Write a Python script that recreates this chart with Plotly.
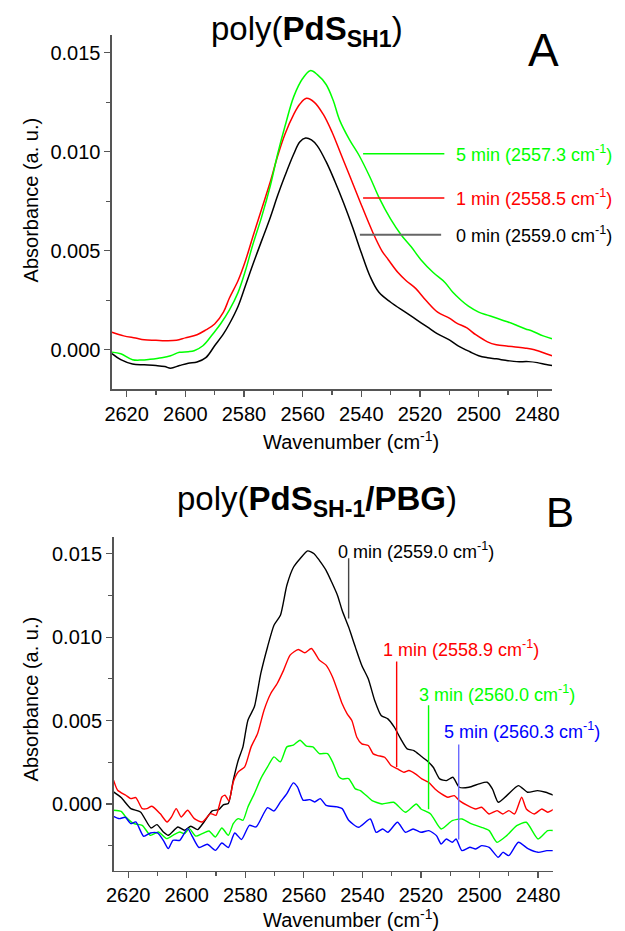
import plotly.graph_objects as go

# ---------------- Panel A data: poly(PdS_SH1) ----------------
a_black_wn = [2625, 2622, 2618, 2614, 2610, 2607, 2605, 2602, 2599, 2596, 2593, 2590, 2587, 2585, 2582,
              2579.6, 2577, 2574, 2571, 2568.5, 2566, 2563, 2561, 2559, 2557, 2555, 2552, 2549, 2546,
              2543, 2540, 2537, 2534, 2530, 2525, 2521, 2517, 2514, 2510, 2507, 2503, 2500, 2497,
              2494, 2490, 2487, 2483, 2480, 2477, 2475]
a_black = [-0.0002, -0.0005, -0.00072, -0.00076, -0.0008, -0.00085, -0.00093, -0.0008, -0.00068, -0.00062,
           -0.0004, 0.0002, 0.0008, 0.0013, 0.0022, 0.0032, 0.0043, 0.0055, 0.0067, 0.0078, 0.0088, 0.0099,
           0.0105, 0.0107, 0.0106, 0.0103, 0.0095, 0.0085, 0.0074, 0.0062, 0.0049, 0.0037, 0.0029, 0.0024,
           0.0019, 0.0015, 0.0011, 0.0008, 0.0005, 0.0002, -0.0001, -0.0003, -0.0004, -0.00046, -0.00055,
           -0.0006, -0.0006, -0.00065, -0.00075, -0.0008]

a_red_wn = [2625, 2621, 2617, 2614, 2610, 2607, 2603, 2600, 2596, 2593, 2590, 2587, 2585, 2582, 2579.5,
            2577, 2574, 2571, 2568.5, 2566, 2563, 2561, 2558.7, 2556, 2553, 2550, 2547, 2544, 2540.5,
            2536, 2533, 2530.8, 2527.5, 2524.8, 2521.5, 2518, 2514, 2510, 2507.5, 2504, 2501, 2497,
            2494, 2490, 2487.5, 2484, 2481, 2477, 2475]
a_red = [0.00088, 0.0007, 0.00059, 0.0005, 0.00048, 0.00046, 0.00048, 0.0006, 0.00076, 0.001, 0.0013,
         0.0019, 0.0026, 0.0035, 0.0045, 0.0057, 0.0071, 0.0085, 0.0098, 0.0109, 0.0119, 0.0124, 0.0127,
         0.0125, 0.0119, 0.0110, 0.0099, 0.0088, 0.0075, 0.0059, 0.0050, 0.00455, 0.0039, 0.0035, 0.0031,
         0.0025, 0.0019, 0.0016, 0.00135, 0.0011, 0.00076, 0.0004, 0.00025, 0.00018, 0.00014, 0.00008,
         0.0, -0.0002, -0.0003]

a_green_wn = [2625, 2622, 2618, 2615, 2612, 2608, 2605, 2602, 2599, 2597, 2594, 2590.6, 2588, 2585, 2582,
              2579.5, 2577, 2574, 2571, 2568.5, 2566, 2563, 2560, 2557.4, 2555, 2552, 2549.6, 2547.4,
              2544, 2540.7, 2537, 2534, 2530, 2526.4, 2523, 2519.7, 2515.5, 2511.5, 2508.8, 2506,
              2503.5, 2500, 2497, 2494, 2490, 2487.5, 2484, 2482, 2478, 2475]
a_green = [-0.00012, -0.0002, -0.0005, -0.00052, -0.00048, -0.0004, -0.0003, -0.00013, -0.0001, -0.00005,
           0.0002, 0.0008, 0.0013, 0.0020, 0.0029, 0.0040, 0.0053, 0.0067, 0.0083, 0.0099, 0.0113, 0.0128,
           0.0137, 0.0141, 0.0139, 0.0134, 0.0126, 0.0116, 0.0106, 0.0098, 0.0087, 0.0077, 0.0066, 0.0058,
           0.0052, 0.00455, 0.0039, 0.0034, 0.0029, 0.0025, 0.0022, 0.0019, 0.00175, 0.0016, 0.0014,
           0.00126, 0.00105, 0.00096, 0.0007, 0.00056]

# ---------------- Panel B data: poly(PdS_SH-1/PBG) ----------------
b_black_wn = [2625, 2622.4, 2619.1, 2615.8, 2612.2, 2610.2, 2608, 2606.3, 2603, 2600.8, 2598.6, 2596.3,
              2594.1, 2591.3, 2589.1, 2587.4, 2585.8, 2584.1, 2582.4, 2580.8, 2579.1, 2576.9, 2574.7,
              2572.4, 2570.2, 2568, 2565.8, 2563.5, 2561.3, 2558.7, 2556.5, 2554.7, 2552.4, 2550.5,
              2548.5, 2546.9, 2544.7, 2542.4, 2540.2, 2538, 2535.8, 2533.6, 2531.3, 2529.1, 2526.9,
              2524.7, 2522.4, 2520.2, 2518, 2515.8, 2513.6, 2511.3, 2509.1, 2506.9, 2503.6, 2500.2,
              2497.4, 2495.6, 2493.6, 2490.7, 2486.7, 2483.6, 2480.2, 2477.4, 2474.5]
b_black = [0.00072, 0.00038, -0.00028, -0.00048, -0.00144, -0.00124, -0.00168, -0.00188, -0.00138,
           -0.00158, -0.00134, -0.00154, -0.00108, -0.00042, -0.00034, -0.00004, 0.00002, 0.00142,
           0.00262, 0.00342, 0.00502, 0.00582, 0.00782, 0.00941, 0.01071, 0.01131, 0.01311, 0.0142,
           0.0147, 0.01517, 0.0150, 0.0146, 0.0140, 0.0133, 0.0125, 0.0116, 0.0106, 0.0094, 0.0083,
           0.0075, 0.0062, 0.0053, 0.0051, 0.0046, 0.0039, 0.0033, 0.0032, 0.0029, 0.0026, 0.0022,
           0.0015, 0.0014, 0.0016, 0.0010, 0.0010, 0.0012, 0.0013, 0.0009, 0.0001, 0.0005, 0.0011,
           0.0007, 0.0008, 0.0007, 0.0005]

b_red_wn = [2625, 2623.6, 2620.8, 2619.1, 2617.4, 2615.2, 2613.6, 2611.9, 2609.1, 2606.7, 2605.2, 2603.6,
            2601.9, 2599.7, 2597.4, 2594.7, 2591.9, 2590, 2588, 2586.9, 2585.6, 2584.1, 2582.4, 2580.2,
            2578, 2575.8, 2573.6, 2571.3, 2569.1, 2566.9, 2564.7, 2561.9, 2559.7, 2557.4, 2554.7,
            2552.4, 2550.2, 2548.5, 2546.9, 2545.2, 2543.6, 2541.9, 2540.2, 2538, 2536.3, 2534.7,
            2532.4, 2530.2, 2528, 2525.8, 2524.1, 2521.9, 2519.7, 2517.4, 2515.2, 2513, 2510.8, 2508.6,
            2506.9, 2504, 2501.3, 2499.3, 2496.7, 2494, 2492, 2490, 2488, 2485.6, 2484, 2481.3, 2478.7,
            2476.7, 2474.5]
b_red = [0.00142, 0.00082, 0.00052, 0.00032, 0.00038, -0.00028, -0.00028, -0.00014, -0.00058, -0.00108,
         -0.00078, -0.00028, -0.00078, -0.00038, -0.00088, -0.00108, -0.00058, -0.00068, 0.00042, 0.00052,
         0.00018, 0.00132, 0.00192, 0.00222, 0.00342, 0.00422, 0.00562, 0.00662, 0.00722, 0.00802,
         0.00892, 0.00926, 0.00906, 0.00932, 0.00862, 0.00832, 0.00761, 0.0068, 0.0060, 0.0054, 0.0050,
         0.0040, 0.0036, 0.0035, 0.0030, 0.0029, 0.0028, 0.0023, 0.0021, 0.0019, 0.0020, 0.0018, 0.0015,
         0.0013, 0.0009, 0.0006, 0.0004, 0.0005, 0.0002, -0.0001, -0.0003, -0.0002, -0.0006, -0.0004,
         -0.0006, -0.0004, -0.0006, 0.0004, -0.0003, -0.0006, -0.0003, -0.0005, -0.0003]

b_green_wn = [2625, 2622.4, 2620.8, 2618, 2615.2, 2612.4, 2609.7, 2606.9, 2604.7, 2602.4, 2600.8, 2599.1,
              2596.9, 2594.7, 2592.4, 2590.2, 2588, 2585.8, 2584.1, 2582.4, 2580.8, 2579.1, 2576.9,
              2574.7, 2572.4, 2570.2, 2568, 2565.8, 2563.6, 2561.3, 2559.1, 2556.9, 2554.7, 2551.9,
              2550.2, 2548, 2546.9, 2544.7, 2542.4, 2540.7, 2538, 2536.7, 2533.3, 2529.3, 2525.3,
              2521.6, 2520, 2516.7, 2513.1, 2509.3, 2506, 2502.7, 2499.3, 2496.7, 2494, 2490.7, 2487.3,
              2484, 2480, 2476.7, 2474.5]
b_green = [-0.00038, -0.00045, -0.00078, -0.00118, -0.00128, -0.00188, -0.00168, -0.00208, -0.00188,
           -0.00168, -0.00178, -0.00148, -0.00193, -0.00178, -0.00162, -0.00198, -0.00144, -0.00188,
           -0.00118, -0.00088, -0.00098, -0.00018, 0.00062, 0.00152, 0.00222, 0.00282, 0.00252, 0.00342,
           0.00352, 0.00382, 0.00346, 0.00342, 0.00302, 0.00302, 0.00252, 0.00162, 0.0015, 0.00152,
           0.0009, 0.0008, 0.0004, 0.0002, 0.0, 0.0001, -0.0005, 0.0, -0.0003, -0.0006, -0.0015, -0.001,
           -0.0009, -0.0012, -0.0014, -0.0016, -0.0023, -0.0019, -0.0013, -0.0011, -0.0021, -0.0016,
           -0.0016]

b_blue_wn = [2625, 2623, 2621, 2619.1, 2617.4, 2614.7, 2612.4, 2610, 2608, 2606.3, 2604.7, 2602.4, 2599.7,
             2598, 2595.8, 2593, 2590.2, 2588, 2585.8, 2583.6, 2581.3, 2578.6, 2576.3, 2572.4, 2570.2,
             2568, 2565.8, 2563.6, 2562.2, 2560.2, 2558, 2556.3, 2554.4, 2552.4, 2548.6, 2546.9,
             2544.7, 2541.3, 2537.3, 2535.3, 2533.1, 2531.3, 2528, 2525.3, 2522.7, 2520, 2517.3,
             2514.7, 2513.1, 2511.3, 2509.3, 2508, 2506, 2503.3, 2501.3, 2499.3, 2496.7, 2493.6, 2492,
             2490, 2486.7, 2483.3, 2480, 2477, 2474.5]
b_blue = [-0.00074, -0.00088, -0.0008, -0.00118, -0.00108, -0.00194, -0.00174, -0.00174, -0.00218,
          -0.00268, -0.00218, -0.00218, -0.00148, -0.00198, -0.00261, -0.00242, -0.00278, -0.00234,
          -0.00261, -0.00174, -0.00213, -0.00128, -0.00138, -0.00022, -0.00042, 0.00012, 0.00062,
          0.00126, 0.00102, 0.00022, 0.00026, 0.00012, 0.00032, -0.00008, -0.00018, -0.00028, -0.00098,
          -0.0014, -0.0009, -0.0017, -0.0015, -0.0017, -0.0011, -0.0017, -0.0015, -0.0017, -0.0016,
          -0.0019, -0.0024, -0.0021, -0.0023, -0.0021, -0.0028, -0.0026, -0.0027, -0.0025, -0.0026,
          -0.0032, -0.0029, -0.0031, -0.0023, -0.0027, -0.0029, -0.0028, -0.0028]

# annotation labels
a_labels = ["5 min (2557.3 cm<sup>-1</sup>)", "1 min (2558.5 cm<sup>-1</sup>)", "0 min (2559.0 cm<sup>-1</sup>)"]
a_label_y = [0.0099, 0.00767, 0.00581]
b_labels = ["0 min (2559.0 cm<sup>-1</sup>)", "1 min (2558.9 cm<sup>-1</sup>)",
            "3 min (2560.0 cm<sup>-1</sup>)", "5 min (2560.3 cm<sup>-1</sup>)"]
b_label_x = [2549.0, 2533.6, 2521.3, 2512.7]
b_label_y = [0.0152, 0.00933, 0.00664, 0.00442]
b_marker_x = [2544.7, 2528.3, 2517.4, 2507.1]
b_marker_y0 = [0.01112, 0.00221, -0.00032, -0.00213]
b_marker_y1 = [0.01472, 0.00854, 0.00591, 0.00357]

FONT = "Arial, Liberation Sans, sans-serif"
BLACK, RED, GREEN, BLUE = "#000000", "#ff0000", "#00ff00", "#0000ff"

fig = go.Figure()
for wn, v, c in [(a_black_wn, a_black, BLACK), (a_red_wn, a_red, RED), (a_green_wn, a_green, GREEN)]:
    fig.add_trace(go.Scatter(x=wn, y=v, mode="lines", line=dict(color=c, width=1.5, shape="spline"),
                             xaxis="x", yaxis="y", showlegend=False, hoverinfo="skip"))
for wn, v, c in [(b_black_wn, b_black, BLACK), (b_red_wn, b_red, RED), (b_green_wn, b_green, GREEN),
                 (b_blue_wn, b_blue, BLUE)]:
    fig.add_trace(go.Scatter(x=wn, y=v, mode="lines", line=dict(color=c, width=1.4, shape="spline", smoothing=0.6),
                             xaxis="x2", yaxis="y2", showlegend=False, hoverinfo="skip"))

axis_common = dict(showline=True, linecolor="#555555", linewidth=1.5, ticks="outside", ticklen=6,
                   tickwidth=1.2, tickcolor="#555555", showgrid=False, zeroline=False,
                   tickfont=dict(family=FONT, size=20, color="#000"), mirror=False)
xcommon = dict(axis_common, range=[2625, 2475], tickmode="linear", tick0=2480, dtick=20,
               minor=dict(ticks="outside", ticklen=4, dtick=10, tick0=2480, tickcolor="#555555"))
ycommon = dict(axis_common, tickmode="array", tickvals=[0, 0.005, 0.01, 0.015],
               ticktext=["0.000", "0.005", "0.010", "0.015"],
               minor=dict(ticks="outside", ticklen=4, tickmode="array",
                          tickvals=[-0.0025, 0.0025, 0.0075, 0.0125], tickcolor="#555555"))

fig.update_layout(
    width=625, height=931, autosize=False,
    margin=dict(l=0, r=0, t=0, b=0),
    paper_bgcolor="white", plot_bgcolor="white",
    xaxis=dict(xcommon, domain=[0.1707, 0.8933], anchor="y"),
    yaxis=dict(ycommon, domain=[0.5818, 0.9624], range=[-0.002, 0.0159], anchor="x"),
    xaxis2=dict(xcommon, domain=[0.1733, 0.8944], anchor="y2"),
    yaxis2=dict(ycommon, domain=[0.0648, 0.4232], range=[-0.0040, 0.0160], anchor="x2"),
)

shapes = []
anns = []
# Panel A label lines
a_colors = [GREEN, RED, "#666666"]
a_x0 = [2539.4, 2539.4, 2540.5]
a_x1 = [2511.7, 2511.7, 2512.8]
for i in range(3):
    shapes.append(dict(type="line", xref="x", yref="y", x0=a_x0[i], x1=a_x1[i], y0=a_label_y[i], y1=a_label_y[i],
                       line=dict(color=a_colors[i], width=1.8 if i == 2 else 1.4)))
    anns.append(dict(xref="x", yref="y", x=2508.5, y=a_label_y[i], text=a_labels[i], showarrow=False,
                     xanchor="left", yanchor="middle",
                     font=dict(family=FONT, size=18, color=[GREEN, RED, BLACK][i])))
# Panel B label lines
b_colors = ["#444444", RED, GREEN, "#6a6aff"]
b_text_colors = [BLACK, RED, GREEN, BLUE]
for i in range(4):
    shapes.append(dict(type="line", xref="x2", yref="y2", x0=b_marker_x[i], x1=b_marker_x[i],
                       y0=b_marker_y0[i], y1=b_marker_y1[i], line=dict(color=b_colors[i], width=1.4)))
    anns.append(dict(xref="x2", yref="y2", x=b_label_x[i], y=b_label_y[i], text=b_labels[i], showarrow=False,
                     xanchor="left", yanchor="middle",
                     font=dict(family=FONT, size=18, color=b_text_colors[i])))

# titles, panel letters, axis titles
anns += [
    dict(xref="paper", yref="paper", x=307 / 625, y=1 - 31 / 931, text="poly(<b>PdS<sub>SH1</sub></b>)",
         showarrow=False, xanchor="center", yanchor="middle", font=dict(family=FONT, size=33, color="#000")),
    dict(xref="paper", yref="paper", x=550 / 625, y=1 - 50 / 931, text="A",
         showarrow=False, xanchor="center", yanchor="middle", font=dict(family=FONT, size=46, color="#000")),
    dict(xref="paper", yref="paper", x=317 / 625, y=1 - 501 / 931, text="poly(<b>PdS<sub>SH-1</sub>/PBG</b>)",
         showarrow=False, xanchor="center", yanchor="middle", font=dict(family=FONT, size=33, color="#000")),
    dict(xref="paper", yref="paper", x=567 / 625, y=1 - 512 / 931, text="B",
         showarrow=False, xanchor="center", yanchor="middle", font=dict(family=FONT, size=42, color="#000")),
    dict(xref="paper", yref="paper", x=352 / 625, y=1 - 441 / 931, text="Wavenumber (cm<sup>-1</sup>)",
         showarrow=False, xanchor="center", yanchor="middle", font=dict(family=FONT, size=20, color="#000")),
    dict(xref="paper", yref="paper", x=352 / 625, y=1 - 918 / 931, text="Wavenumber (cm<sup>-1</sup>)",
         showarrow=False, xanchor="center", yanchor="middle", font=dict(family=FONT, size=20, color="#000")),
    dict(xref="paper", yref="paper", x=24 / 625, y=1 - 200 / 931, text="Absorbance (a. u.)", textangle=-90,
         showarrow=False, xanchor="center", yanchor="middle", font=dict(family=FONT, size=20, color="#000")),
    dict(xref="paper", yref="paper", x=24 / 625, y=1 - 699 / 931, text="Absorbance (a. u.)", textangle=-90,
         showarrow=False, xanchor="center", yanchor="middle", font=dict(family=FONT, size=20, color="#000")),
]
fig.update_layout(shapes=shapes, annotations=anns, hovermode=False, dragmode=False)
fig.write_html("out.html", config={"displayModeBar": False, "staticPlot": True})

# remove the default page margin so the 625x931 figure fills the window exactly
with open("out.html", "r", encoding="utf-8") as f:
    html = f.read()
html = html.replace("<body>", '<body style="margin:0;padding:0;overflow:hidden">', 1)
with open("out.html", "w", encoding="utf-8") as f:
    f.write(html)
